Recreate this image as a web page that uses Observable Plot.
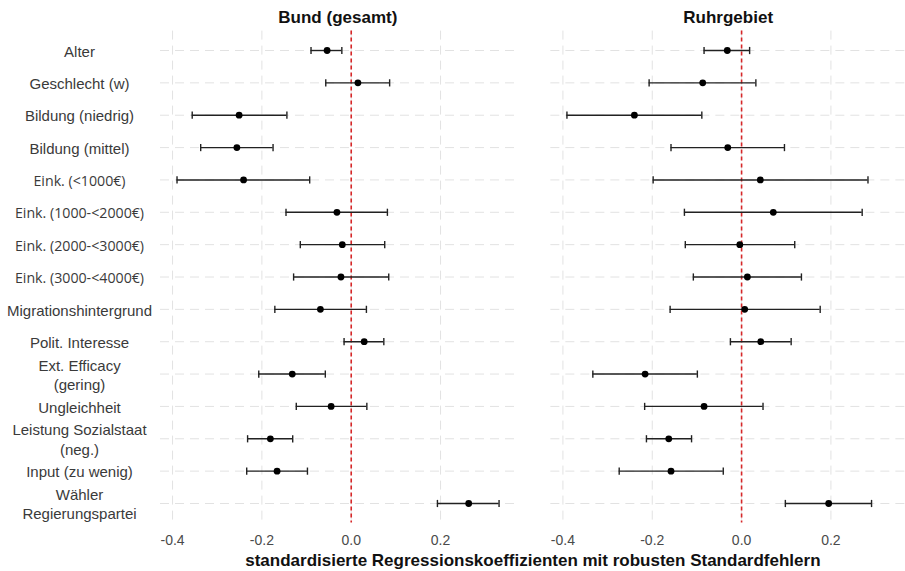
<!DOCTYPE html>
<html>
<head>
<meta charset="utf-8">
<script src="https://cdn.jsdelivr.net/npm/d3@7"></script>
<script src="https://cdn.jsdelivr.net/npm/@observablehq/plot@0.6"></script>
<style>
  html, body { margin: 0; padding: 0; background: #fff; }
  #chart svg { display: block; font-family: "Liberation Sans", Arial, sans-serif; }
</style>
</head>
<body>
<div id="chart"></div>
<script>
const panels = ["Bund (gesamt)", "Ruhrgebiet"];
const labels = [
  "Alter", "Geschlecht (w)", "Bildung (niedrig)", "Bildung (mittel)",
  "Eink. (<1000€)", "Eink. (1000-<2000€)", "Eink. (2000-<3000€)", "Eink. (3000-<4000€)",
  "Migrationshintergrund", "Polit. Interesse", "Ext. Efficacy\n(gering)", "Ungleichheit",
  "Leistung Sozialstaat\n(neg.)", "Input (zu wenig)", "Wähler\nRegierungspartei"
];
const bundEst = [-0.054, 0.015, -0.251, -0.256, -0.241, -0.032, -0.020, -0.023, -0.069, 0.029, -0.132, -0.045, -0.181, -0.166, 0.263];
const bundLo  = [-0.090, -0.057, -0.356, -0.337, -0.390, -0.146, -0.114, -0.129, -0.171, -0.016, -0.207, -0.123, -0.232, -0.234, 0.193];
const bundHi  = [-0.021, 0.086, -0.144, -0.175, -0.093, 0.081, 0.075, 0.084, 0.034, 0.073, -0.058, 0.035, -0.131, -0.098, 0.331];
const ruhrEst = [-0.032, -0.087, -0.240, -0.031, 0.042, 0.071, -0.004, 0.013, 0.007, 0.043, -0.216, -0.084, -0.163, -0.158, 0.195];
const ruhrLo  = [-0.084, -0.207, -0.391, -0.158, -0.198, -0.128, -0.126, -0.108, -0.160, -0.025, -0.333, -0.217, -0.213, -0.274, 0.098];
const ruhrHi  = [0.018, 0.032, -0.089, 0.096, 0.283, 0.270, 0.119, 0.134, 0.176, 0.111, -0.099, 0.048, -0.112, -0.041, 0.291];
const xTicks = [-0.4, -0.2, 0.0, 0.2];
const xTitle = "standardisierte Regressionskoeffizienten mit robusten Standardfehlern";

const rows = [
  ...labels.map((l, i) => ({panel: panels[0], label: l, est: bundEst[i], lo: bundLo[i], hi: bundHi[i]})),
  ...labels.map((l, i) => ({panel: panels[1], label: l, est: ruhrEst[i], lo: ruhrLo[i], hi: ruhrHi[i]}))
];

const capSymbol = {
  draw(context, size) {
    const h = Math.sqrt(size / Math.PI);
    context.moveTo(0, -h);
    context.lineTo(0, h);
  }
};

const euroLabels = labels.filter(l => l.includes("€"));
const plainLabels = labels.filter(l => !l.includes("€"));
const labelOpts = {
  y: d => d, fx: () => panels[0], frameAnchor: "left", dx: -81,
  textAnchor: "middle", lineHeight: 1.3, fontSize: 15, fill: "#3a3a3a"
};

const chart = Plot.plot({
  width: 905,
  height: 571,
  marginLeft: 160,
  marginRight: 0,
  marginTop: 30.6,
  marginBottom: 48.6,
  style: {fontFamily: "'Liberation Sans', Arial, sans-serif", background: "#fff"},
  x: {domain: [-0.427, 0.367], label: null},
  y: {type: "point", domain: labels, padding: 0.6, round: false, axis: null},
  fx: {domain: panels, paddingInner: 0.0915, paddingOuter: 0, round: false, label: null, axis: null},
  marks: [
    Plot.ruleX(xTicks, {stroke: "#e2e2e2", strokeWidth: 1, strokeDasharray: "9,6"}),
    Plot.ruleY(labels, {y: d => d, stroke: "#e2e2e2", strokeWidth: 1, strokeDasharray: "9,6"}),
    Plot.ruleX([0], {stroke: "#d62728", strokeWidth: 1.6, strokeDasharray: "4,3"}),
    Plot.ruleY(rows, {fx: "panel", y: "label", x1: "lo", x2: "hi", stroke: "#222", strokeWidth: 1.4}),
    Plot.dot(rows, {fx: "panel", y: "label", x: "lo", symbol: capSymbol, r: 3.6, fill: "none", stroke: "#222", strokeWidth: 1.4}),
    Plot.dot(rows, {fx: "panel", y: "label", x: "hi", symbol: capSymbol, r: 3.6, fill: "none", stroke: "#222", strokeWidth: 1.4}),
    Plot.dot(rows, {fx: "panel", y: "label", x: "est", r: 3.4, fill: "#000", stroke: "none"}),
    Plot.axisX({ticks: xTicks, tickFormat: d => d.toFixed(1), tickSize: 0, tickPadding: 12, fontSize: 14, fill: "#4a4a4a", label: null}),
    Plot.text(panels, {fx: d => d, text: d => d, frameAnchor: "top", dy: -20, fontSize: 17, fontWeight: "bold", fill: "#111"}),
    Plot.text(plainLabels, labelOpts),
    Plot.text(euroLabels, {...labelOpts, fontFamily: "'Open Sans', sans-serif", fontSize: 14.2}),
    Plot.text([xTitle], {fx: () => panels[1], frameAnchor: "bottom-left", dx: -18, dy: 43, textAnchor: "middle", fontSize: 17, fontWeight: "bold", fill: "#111"})
  ]
});

document.getElementById("chart").appendChild(chart);
</script>
</body>
</html>
